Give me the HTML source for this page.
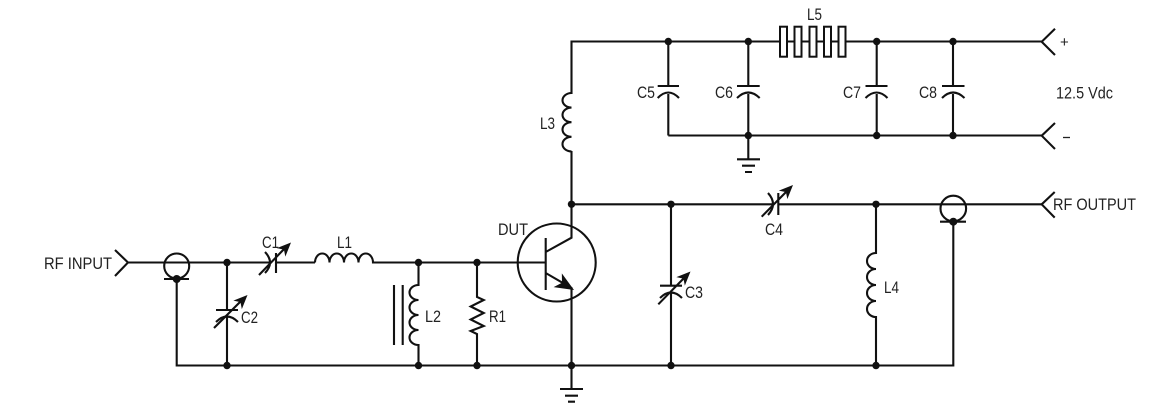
<!DOCTYPE html>
<html><head><meta charset="utf-8"><style>
html,body{margin:0;padding:0;background:#fff}
svg{display:block}
text{font-family:"Liberation Sans",sans-serif;font-size:16.5px;fill:#222}
.w{fill:none;stroke:#111;stroke-width:2.1;stroke-linecap:butt;stroke-linejoin:miter}
.d{fill:#111}
</style></head><body>
<svg width="1155" height="408" viewBox="0 0 1155 408" xmlns="http://www.w3.org/2000/svg">
<rect width="1155" height="408" fill="#fff"/>
<!-- input side wires -->
<path class="w" d="M115 250L128 262.5L115 276M128 262.5H271M276 262.5H315"/>
<path class="w" d="M315 262.5a7.25 9 0 0 1 14.5 0a7.25 9 0 0 1 14.5 0a7.25 9 0 0 1 14.5 0a7.25 9 0 0 1 14.5 0H545.5"/>
<circle class="w" cx="176.7" cy="266" r="12.5"/>
<path class="w" d="M164 279H189M176.7 279V365.5H953.3V221.7"/>
<!-- C2 -->
<path class="w" d="M227 262.5V310M227 317V365.5M216 310H238M216 322Q227 311 238 322"/>
<path class="w" d="M214 328L242 300"/>
<path class="d" d="M0 0L-14 -6L-10 0L-14 6Z" transform="translate(247.5 295) rotate(-45)"/>
<!-- C1 -->
<path class="w" d="M276 253V273M265 252Q275 262.5 265 273M259 275L286 247"/>
<path class="d" d="M0 0L-14 -6L-10 0L-14 6Z" transform="translate(291 242.5) rotate(-45)"/>
<!-- L2 -->
<path class="w" d="M418.5 262.5V285a9 7.5 0 0 0 0 15a9 7.5 0 0 0 0 15a9 7.5 0 0 0 0 15a9 7.5 0 0 0 0 15V365.5"/>
<path class="w" d="M394 285V345M402.7 285V345"/>
<!-- R1 -->
<path class="w" d="M477 262.5V297L483.7 300L470.7 306.5L483.7 313L470.7 319.5L483.7 326L470.7 331L477 334V365.5"/>
<!-- transistor -->
<circle class="w" cx="556.7" cy="262.5" r="39"/>
<path class="w" d="M545.7 238V290M545.7 252L571.5 237.7V41.5H1041.7M545.7 273L571.5 288V389"/>
<path class="d" d="M0 0L-19 -8L-14 0L-19 8Z" transform="translate(574 290) rotate(31)"/>
<path class="w" d="M560 389H583"/>
<path class="w" d="M565 395.7H578M568 401.7H575"/>
<!-- L3 -->
<rect x="555" y="94" width="24" height="57" fill="#fff"/>
<path class="w" d="M571.5 93a9 7.3 0 0 0 0 14.6a9 7.3 0 0 0 0 14.6a9 7.3 0 0 0 0 14.6a9 7.3 0 0 0 0 14.6"/>
<!-- L5 -->
<g fill="#fff" stroke="#111" stroke-width="2">
<rect x="780" y="26.7" width="7" height="30"/>
<rect x="794.5" y="26.7" width="7" height="30"/>
<rect x="809.5" y="26.7" width="7" height="30"/>
<rect x="824" y="26.7" width="7" height="30"/>
<rect x="838.5" y="26.7" width="7" height="30"/>
</g>
<!-- bypass caps -->
<path class="w" d="M668.3 41.5V86M668.3 94V135.5M748.3 41.5V86M748.3 94V159.3M876.7 41.5V86M876.7 94V135.5M953 41.5V86M953 94V135.5M668.3 135.5H1041.7"/>
<path class="w" d="M657.7 86H679M657.7 98Q668.3 87 679 98M737 86H759.7M737 98Q748.3 87 759.7 98M865.5 86H887.5M865.5 98Q876.7 87 887.5 98M942 86H964.5M942 98Q953 87 964.5 98"/>
<path class="w" d="M737 159.3H760M742 165.7H755M745 172H752"/>
<!-- DC connectors -->
<path class="w" d="M1055 28.7L1041.7 41.7L1055 55M1055 123L1041.7 135.7L1055 149"/>
<!-- output -->
<path class="w" d="M571.5 204.3H774M778.3 204.3H1041.7"/>
<path class="w" d="M1054.7 192L1041.7 204.3L1054.7 217.6"/>
<path class="w" d="M671 204.3V285.7M671 293V365.5M660 285.7H682M660 298Q671 287 682 298M658.3 304.3L686 276"/>
<path class="d" d="M0 0L-14 -6L-10 0L-14 6Z" transform="translate(690.5 271.5) rotate(-45)"/>
<path class="w" d="M778.3 193V215M768 193Q778 204 768 215M761.7 216.7L788 190"/>
<path class="d" d="M0 0L-14 -6L-10 0L-14 6Z" transform="translate(793 185) rotate(-45)"/>
<path class="w" d="M876 204.3V253a9 8 0 0 0 0 16a9 8 0 0 0 0 16a9 8 0 0 0 0 16a9 8 0 0 0 0 16V365.5"/>
<circle class="w" cx="953.3" cy="208.5" r="12.8"/>
<path class="w" d="M940 221.7H966"/>
<!-- dots -->
<g class="d">
<circle cx="176.7" cy="279" r="4"/><circle cx="227" cy="262.5" r="3.7"/><circle cx="227" cy="365.5" r="3.7"/>
<circle cx="418.5" cy="262.5" r="3.7"/><circle cx="477" cy="262.5" r="3.7"/><circle cx="418.5" cy="365.5" r="3.7"/><circle cx="477" cy="365.5" r="3.7"/>
<circle cx="571.5" cy="365.5" r="3.7"/><circle cx="571.5" cy="204.3" r="3.7"/><circle cx="671" cy="204.3" r="3.7"/><circle cx="671" cy="365.5" r="3.7"/>
<circle cx="668.3" cy="41.5" r="3.7"/><circle cx="748.3" cy="41.5" r="3.7"/><circle cx="876.7" cy="41.5" r="3.7"/><circle cx="953" cy="41.5" r="3.7"/>
<circle cx="748.3" cy="135.5" r="3.7"/><circle cx="876.7" cy="135.5" r="3.7"/><circle cx="953" cy="135.5" r="3.7"/>
<circle cx="876" cy="204.3" r="3.7"/><circle cx="876" cy="365.5" r="3.7"/><circle cx="953.3" cy="221.7" r="4"/>
</g>
<!-- labels -->
<text x="44" y="269" textLength="68" lengthAdjust="spacingAndGlyphs">RF INPUT</text>
<text x="262" y="248" textLength="17" lengthAdjust="spacingAndGlyphs">C1</text>
<text x="337" y="248" textLength="15" lengthAdjust="spacingAndGlyphs">L1</text>
<text x="241" y="323" textLength="17" lengthAdjust="spacingAndGlyphs">C2</text>
<text x="425" y="322" textLength="16" lengthAdjust="spacingAndGlyphs">L2</text>
<text x="489" y="322" textLength="17" lengthAdjust="spacingAndGlyphs">R1</text>
<text x="498" y="235" textLength="30" lengthAdjust="spacingAndGlyphs">DUT</text>
<text x="685" y="298" textLength="18" lengthAdjust="spacingAndGlyphs">C3</text>
<text x="765" y="235" textLength="18" lengthAdjust="spacingAndGlyphs">C4</text>
<text x="884" y="293" textLength="15" lengthAdjust="spacingAndGlyphs">L4</text>
<text x="807" y="20" textLength="15" lengthAdjust="spacingAndGlyphs">L5</text>
<text x="540" y="129" textLength="15" lengthAdjust="spacingAndGlyphs">L3</text>
<text x="637" y="98" textLength="18" lengthAdjust="spacingAndGlyphs">C5</text>
<text x="715" y="98" textLength="18" lengthAdjust="spacingAndGlyphs">C6</text>
<text x="843" y="98" textLength="18" lengthAdjust="spacingAndGlyphs">C7</text>
<text x="919" y="98" textLength="18" lengthAdjust="spacingAndGlyphs">C8</text>
<text x="1056" y="98.5" textLength="57" lengthAdjust="spacingAndGlyphs">12.5 Vdc</text>
<text x="1053" y="210" textLength="83" lengthAdjust="spacingAndGlyphs">RF OUTPUT</text>
<text x="1060" y="47" style="font-size:15px">+</text>
<path d="M1063 137.5H1070" stroke="#222" stroke-width="1.3"/>
</svg>
</body></html>
